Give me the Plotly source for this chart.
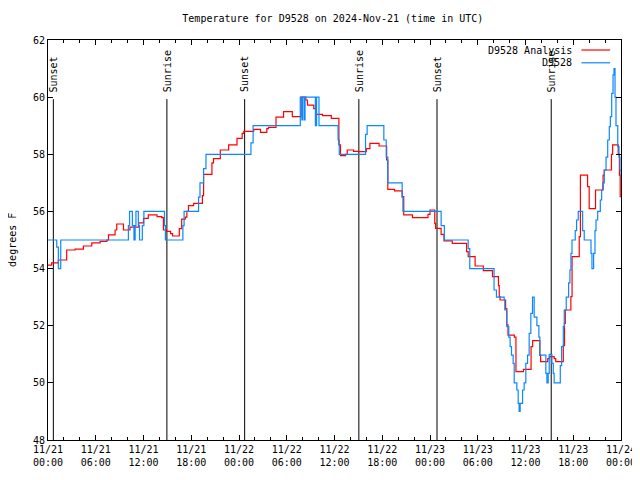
import pandas as pd
import plotly.graph_objects as go

BASE = pd.Timestamp("2024-11-21 00:00")

# Analysis series (hours since 11/21 00:00 UTC, degrees F)
analysis_hours = [0, 0.46, 1.3, 2.35, 3.4, 4.45, 5.5, 6.55, 7.4, 7.6, 8.43, 8.64, 9.48, 10.3, 11.4, 12.0,
                  12.6, 13.7, 14.3, 14.5, 14.9, 15.4, 15.65, 16.5, 16.8, 17.25, 17.45, 17.65, 18.3, 19.4,
                  19.55, 20.6, 20.8, 21.65, 22.7, 23.75, 24.4, 24.6, 25.85, 26.7, 27.5, 27.7, 28.65, 29.6,
                  30.7, 31.8, 32.4, 32.6, 33.4, 33.7, 34.5, 35.6, 36.55, 36.75, 37.4, 37.6, 38.4, 39.06,
                  40.0, 40.45, 41.6, 42.55, 42.7, 43.55, 44.5, 44.7, 45.8, 47.75, 48.0, 48.6, 48.7, 49.4,
                  49.76, 50.8, 52.6, 52.8, 53.67, 54.7, 55.85, 56.6, 56.7, 56.8, 57.5, 57.65, 57.8, 58.6,
                  58.8, 59.75, 60.7, 60.9, 61.8, 61.9, 62.8, 63.0, 63.6, 63.8, 64.75, 64.9, 65.0, 65.7,
                  65.85, 66.75, 66.9, 67.8, 68.0, 68.8, 69.75, 69.9, 70.8, 70.95, 71.65, 71.8, 71.9, 72.0]
analysis_vals = [54.12, 54.2, 54.3, 54.65, 54.68, 54.79, 54.9, 54.95, 55.0, 55.18, 55.35, 55.56, 55.35, 55.45,
                 55.6, 55.76, 55.88, 55.82, 55.78, 55.35, 55.3, 55.22, 55.14, 55.4, 55.73, 55.8, 56.0, 56.2,
                 56.28, 56.55, 57.3, 57.7, 57.85, 58.15, 58.33, 58.56, 58.73, 58.8, 58.87, 58.77, 58.9,
                 58.94, 59.3, 59.49, 59.32, 60.0, 59.9, 59.72, 59.6, 59.4, 59.35, 59.26, 58.33, 57.95,
                 58.0, 58.15, 58.1, 58.09, 58.2, 58.38, 58.29, 57.8, 56.77, 56.72, 56.52, 55.88, 55.78,
                 55.9, 56.05, 55.58, 55.41, 55.2, 54.97, 54.88, 54.59, 54.42, 54.09, 53.93, 53.72, 53.4,
                 53.02, 52.9, 52.6, 52.03, 51.67, 51.6, 50.39, 50.47, 51.27, 51.48, 50.97, 50.74, 50.85,
                 50.92, 50.85, 50.74, 51.3, 52.08, 52.55, 53.02, 54.42, 55.12, 57.27, 56.87, 56.1, 56.75,
                 57.27, 57.45, 58.0, 58.33, 58.0, 57.27, 56.52, 56.52]

# Observed series
obs_hours = [0, 1.1, 1.3, 1.6, 10.1, 10.25, 10.6, 10.8, 10.95, 11.05, 11.35, 11.5, 11.85, 12.05,
             14.64, 14.75, 16.95, 17.1, 18.92, 19.1, 19.55, 19.85, 25.5, 25.77,
             31.7, 31.9, 32.0, 32.2, 32.3, 33.6, 33.75, 34.05, 36.45, 36.6,
             39.9, 40.1, 42.2, 42.5, 42.7, 44.5, 44.6, 49.4, 49.8, 52.8, 53.0, 56.05, 56.35,
             57.32, 57.4, 57.65, 57.9, 58.07, 58.24, 58.45, 58.58, 58.91, 59.08, 59.2, 59.33, 59.63,
             59.83, 60.04, 60.26, 60.46, 60.67, 60.88, 61.09, 61.43, 61.68, 61.8, 62.56, 62.69, 62.85,
             62.98, 63.32, 63.49, 63.6, 64.37, 64.54, 64.75, 64.87, 65.12, 65.42, 65.58, 65.71, 65.84,
             66.25, 66.42, 66.63, 67.18, 67.38, 68.23, 68.35, 68.56, 68.73, 68.86, 69.07, 69.4, 69.57,
             69.7, 69.9, 70.12, 70.33, 70.53, 70.66, 70.83, 71.0, 71.12, 71.25, 71.37, 71.59, 71.75,
             71.87, 72.0]
obs_vals = [55, 54.75, 54.0, 55.0, 55.5, 56, 55.5, 55, 55.5, 56, 55.5, 55, 55.5, 56,
            55.5, 55, 55.5, 56, 56.5, 57, 57.5, 58, 58.4, 59,
            60, 59.2, 60, 59.2, 60, 59, 60, 59, 58.5, 58,
            58.7, 59, 58.5, 57.9, 57, 56.5, 56, 55.5, 55, 54.7, 54, 53.25, 53,
            52.9, 52.55, 51.97, 51.6, 51.27, 50.97, 50.68, 50.0, 49.75, 49.28, 49.0, 49.28, 49.75,
            50.0, 50.68, 50.97, 51.73, 52.43, 53.0, 52.3, 52.0, 51.6, 50.97, 50.33, 50.0, 50.33,
            51.0, 50.68, 50.33, 50.0, 50.6, 51.27, 51.97, 52.55, 53.0, 53.5, 53.95, 54.53, 55.0,
            55.33, 55.7, 56.0, 55.33, 55.0, 54.53, 54.0, 54.53, 55.33, 55.7, 56.0, 56.4, 56.75,
            57.0, 57.45, 57.9, 58.5, 58.97, 59.32, 60.13, 60.78, 61.0, 60.0, 59.0, 58.27, 57.9,
            57.45, 57.2]

# Sun events (hours since 11/21 00:00 UTC)
sun_hours = [0.67, 14.94, 24.71, 39.06, 48.88, 63.23]
sun_labels = ["Sunset", "Sunrise", "Sunset", "Sunrise", "Sunset", "Sunrise"]

series_names = ["D9528 Analysis", "D9528"]
series_colors = ["#ff0000", "#0a88ff"]

Y_MIN, Y_MAX = 48, 62
FONT = "DejaVu Sans Mono"


def to_time(hours):
    return BASE + pd.to_timedelta(pd.Series(hours, dtype=float), unit="h")


fig = go.Figure()
fig.add_trace(go.Scatter(x=to_time(analysis_hours), y=analysis_vals, mode="lines",
                         line=dict(color=series_colors[0], width=1.2, shape="hv"),
                         name=series_names[0], showlegend=False))
fig.add_trace(go.Scatter(x=to_time(obs_hours), y=obs_vals, mode="lines",
                         line=dict(color=series_colors[1], width=1.2, shape="hv"),
                         name=series_names[1], showlegend=False))

sun_times = to_time(sun_hours)
for t, lab in zip(sun_times, sun_labels):
    fig.add_shape(type="line", x0=t, x1=t, y0=Y_MIN, y1=59.93, xref="x", yref="y",
                  line=dict(color="black", width=1), layer="below")
    fig.add_annotation(x=t, y=60.1, xref="x", yref="y", text=lab, textangle=-90,
                       showarrow=False, xanchor="center", yanchor="bottom",
                       font=dict(family=FONT, size=10, color="black"))

# Legend (gnuplot style: right-aligned text, sample on the right)
leg_y = [0.975, 0.943]
for name, col, yy in zip(series_names, series_colors, leg_y):
    fig.add_annotation(x=0.918, y=yy, xref="paper", yref="paper", text=name, showarrow=False,
                       xanchor="right", yanchor="middle",
                       font=dict(family=FONT, size=10, color="black"))
    fig.add_shape(type="line", x0=0.931, x1=0.981, y0=yy, y1=yy, xref="paper", yref="paper",
                  line=dict(color=col, width=1.2))

fig.add_annotation(x=-0.063, y=0.5, xref="paper", yref="paper", text="degrees F", textangle=-90,
                   showarrow=False, xanchor="center", yanchor="middle",
                   font=dict(family=FONT, size=10, color="black"))

# The page body adds an 8px offset, so the figure is 632x472 with margins compensated.
fig.update_layout(
    width=632, height=472,
    margin=dict(l=40, r=19, t=32, b=40, autoexpand=False),
    paper_bgcolor="white", plot_bgcolor="white",
    title=dict(text="Temperature for D9528 on 2024-Nov-21 (time in UTC)", x=0.514, xanchor="center",
               y=0.977, yanchor="middle", yref="container",
               font=dict(family=FONT, size=10, color="black")),
    font=dict(family=FONT, size=10, color="black"),
    showlegend=False,
)
fig.update_xaxes(type="date", range=[BASE, BASE + pd.Timedelta(hours=72)], automargin=False,
                 tick0=BASE, dtick=6 * 3600 * 1000, tickformat="%m/%d<br>%H:%M",
                 ticks="inside", ticklen=5, tickcolor="black", showline=True, linecolor="black",
                 linewidth=1, mirror="allticks", showgrid=False, zeroline=False,
                 minor=dict(dtick=2 * 3600 * 1000, ticks="inside", ticklen=3, tickcolor="black",
                            showgrid=False),
                 tickfont=dict(family=FONT, size=10, color="black"))
fig.update_yaxes(range=[Y_MIN, Y_MAX], dtick=2, ticks="inside", ticklen=5, tickcolor="black",
                 showline=True, linecolor="black", linewidth=1, mirror="allticks", automargin=False,
                 showgrid=False, zeroline=False,
                 tickfont=dict(family=FONT, size=10, color="black"))

fig.write_html("out.html")
